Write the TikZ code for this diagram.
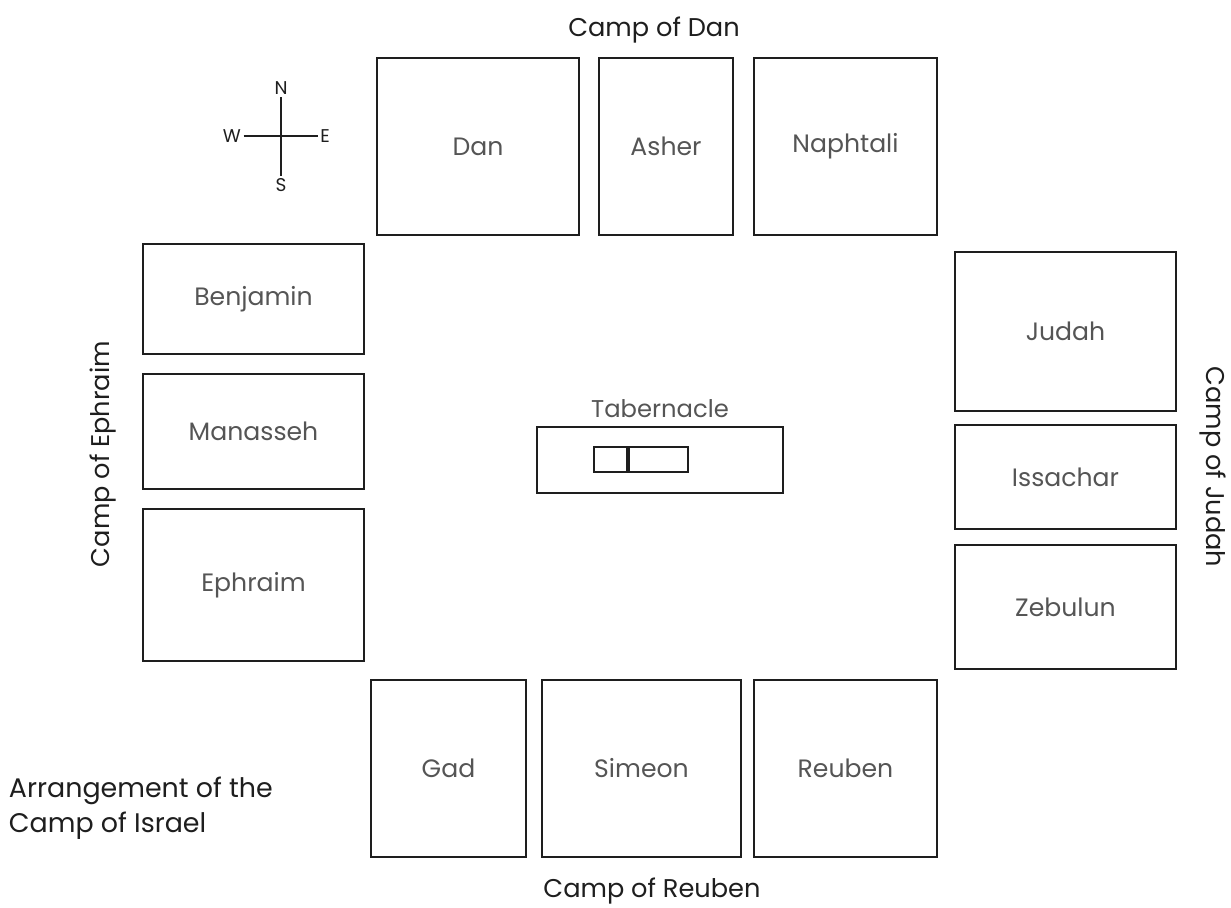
\documentclass[tikz,border=0pt]{standalone}
\usepackage{fontspec}
\setmainfont{Poppins}
\usetikzlibrary{positioning}
\definecolor{ink}{HTML}{1E1E1E}
\definecolor{inkbody}{HTML}{555555}

\begin{document}
\begin{tikzpicture}[
  x=0.02cm, y=-0.02cm,
  line width=1.1pt,
  tribe/.style={draw=ink, minimum width=#1, inner sep=0pt, font=\fontsize{14.3}{16}\selectfont, text=inkbody},
  camp/.style={font=\fontsize{14.6}{17}\selectfont, text=ink},
  pt/.style={font=\fontsize{10.5}{12}\selectfont, text=ink, inner sep=1pt},
]
\useasboundingbox (0,0) rectangle (1231,908);
% camp of Dan (north)
\node[camp] (dancamp) at (654,30) {Camp of Dan};
\node[tribe=202*0.02cm, minimum height=177*0.02cm] (dan) at (478,146.5) {Dan};
\node[tribe=134*0.02cm, minimum height=177*0.02cm] (asher) at (666,146.5) {Asher};
\node[tribe=183*0.02cm, minimum height=177*0.02cm] (naphtali) at (845.5,146.5) {Naphtali};
% camp of Ephraim (west)
\node[camp, rotate=90] (ephcamp) at (103,454) {Camp of Ephraim};
\node[tribe=221*0.02cm, minimum height=110*0.02cm] (benjamin) at (253.5,299) {Benjamin};
\node[tribe=221*0.02cm, minimum height=115*0.02cm] (manasseh) at (253.5,431.5) {Manasseh};
\node[tribe=221*0.02cm, minimum height=152*0.02cm] (ephraim) at (253.5,585) {Ephraim};
% camp of Judah (east)
\node[camp, rotate=-90] (judcamp) at (1213,467) {Camp of Judah};
\node[tribe=221*0.02cm, minimum height=159*0.02cm] (judah) at (1065.5,331.5) {Judah};
\node[tribe=221*0.02cm, minimum height=104*0.02cm] (issachar) at (1065.5,477) {Issachar};
\node[tribe=221*0.02cm, minimum height=124*0.02cm] (zebulun) at (1065.5,607) {Zebulun};
% camp of Reuben (south)
\node[camp] (reucamp) at (652,891) {Camp of Reuben};
\node[tribe=155*0.02cm, minimum height=177*0.02cm] (gad) at (448.5,768.5) {Gad};
\node[tribe=199*0.02cm, minimum height=177*0.02cm] (simeon) at (641.5,768.5) {Simeon};
\node[tribe=183*0.02cm, minimum height=177*0.02cm] (reuben) at (845.5,768.5) {Reuben};
% tabernacle
\node[tribe=246*0.02cm, minimum height=66*0.02cm] (tabernacle) at (660,460) {};
\node[tribe=1pt, draw=none, above=4pt of tabernacle, font=\fontsize{13.8}{16}\selectfont] (tablbl) {Tabernacle};
\node[tribe=33*0.02cm, minimum height=25*0.02cm] (holiest) at (610.5,459.5) {};
\node[tribe=59*0.02cm, minimum height=25*0.02cm, right=0pt of holiest] (holy) {};
% compass
\node[pt] (n) at (281,88) {N};
\node[pt] (s) at (281,185) {S};
\node[pt] (w) at (232,136) {W};
\node[pt] (e) at (325,136) {E};
\draw[ink, line width=1.4pt] (n.south) -- (s.north);
\draw[ink, line width=1.4pt] (w.east) -- (e.west);
% caption
\node[anchor=north west, align=left, inner sep=0pt, font=\fontsize{15.3}{20}\selectfont, text=ink] (caption) at (8,776)
  {Arrangement of the\\Camp of Israel};
\end{tikzpicture}
\end{document}
